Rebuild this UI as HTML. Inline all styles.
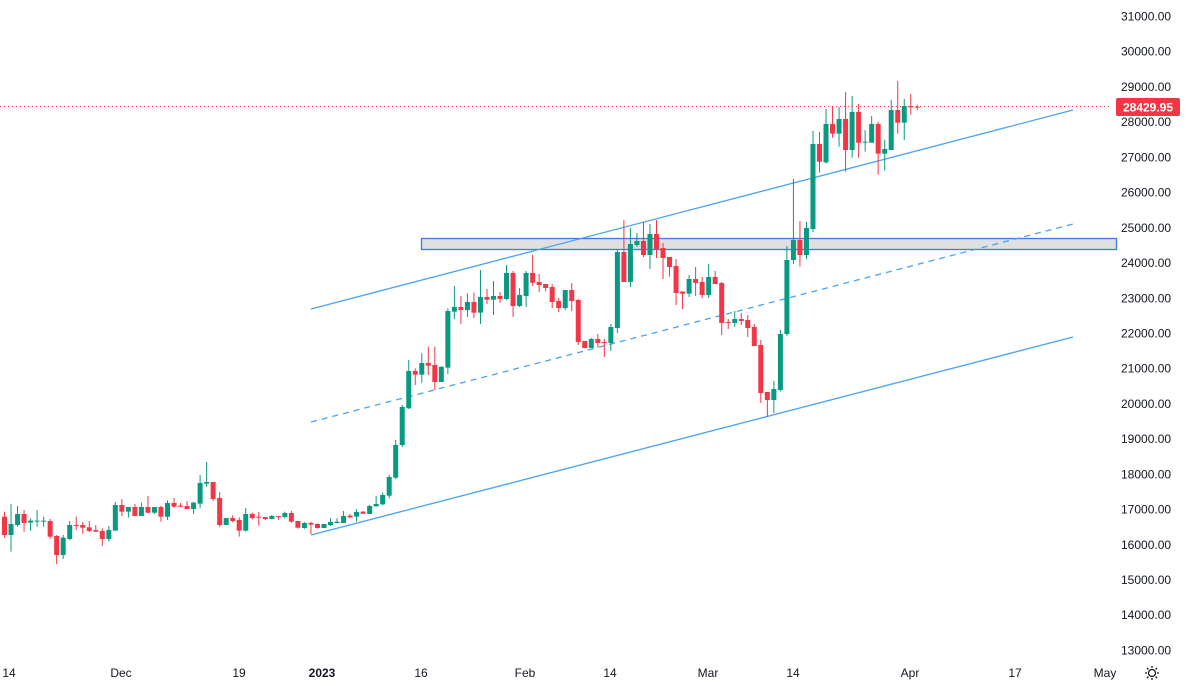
<!DOCTYPE html>
<html><head><meta charset="utf-8"><style>
html,body{margin:0;padding:0;background:#fff;width:1186px;height:686px;overflow:hidden}
svg{display:block;font-family:"Liberation Sans",sans-serif}
</style></head><body>
<svg id="s" width="1186" height="686" xmlns="http://www.w3.org/2000/svg">
<rect x="0" y="0" width="1186" height="686" fill="#fff"/>
<rect x="421.5" y="238.5" width="695" height="11" fill="#e0e0e0" stroke="#3d7be0" stroke-width="1.3"/>
<line x1="0" y1="106.5" x2="1112" y2="106.5" stroke="#F23645" stroke-width="1" stroke-dasharray="1,3"/>
<g stroke="#4aa3f0" stroke-width="1.3">
<line x1="311" y1="309" x2="1073" y2="110"/>
<line x1="311" y1="535" x2="1073" y2="337"/>
<line x1="311" y1="422" x2="1073" y2="224" stroke-dasharray="6,5"/>
</g>
<g id="c"></g>
<g fill="#131722" font-size="12" id="ax"></g>
<rect x="1116" y="98" width="64" height="18" rx="2" fill="#F23645"/>
<text x="1148" y="111.5" fill="#fff" font-size="12" font-weight="bold" text-anchor="middle">28429.95</text>
<g fill="#131722" font-size="12" text-anchor="middle">
<text x="9" y="677">14</text><text x="121" y="677">Dec</text><text x="239" y="677">19</text>
<text x="322" y="677" font-weight="bold">2023</text><text x="421" y="677">16</text><text x="525" y="677">Feb</text>
<text x="610" y="677">14</text><text x="708" y="677">Mar</text><text x="793" y="677">14</text>
<text x="910" y="677">Apr</text><text x="1015" y="677">17</text><text x="1105" y="677">May</text>
</g>
<g transform="translate(1152,673)" stroke="#131722" fill="none" stroke-width="1.3">
<circle r="3.5"/><path d="M0-7V-5M0 5V7M-7 0H-5M5 0H7M-5-5L-3.6-3.6M3.6 3.6L5 5M-5 5L-3.6 3.6M3.6-3.6L5-5"/>
</g>
</svg>
<script>
var z1=[[0,230,285,215,293],[1,252,285,192,335],[1,222,255,198,260],[0,222,249,210,275],[1,242,248,235,272],[1,242,245,210,260],[1,242,245,230,260],[0,243,290,237,297],[0,288,345,285,372],[1,293,345,285,357],[1,255,297,243,300],[0,255,258,230,270],[0,255,263,246,281],[0,262,273,243,276],[0,270,275,255,275],[0,273,297,265,318],[1,270,297,258,305],[1,195,272,186,272],[0,195,215,177,228],[1,201,215,201,233],[0,201,228,192,228],[1,201,228,188,228],[0,201,218,168,220],[1,201,218,201,222],[0,201,230,197,245],[1,189,230,181,240],[0,189,200,174,204],[0,197,200,189,201],[0,198,207,183,207],[1,188,207,185,222],[1,129,191,105,204],[1,126,131,66,140],[0,126,177,126,183],[0,174,255,156,260],[1,234,255,234,255],[0,234,243,226,247],[0,240,272,232,290],[1,222,272,204,275],[0,222,234,218,238],[0,230,233,216,257],[0,231,237,231,240],[1,228,237,225,238],[0,228,231,228,240],[1,219,231,215,235],[0,219,245,213,248],[0,243,263,243,266],[1,249,264,246,266],[0,249,254,245,282],[0,252,264,250,266],[1,252,264,252,264],[1,246,255,235,258],[1,245,249,235,250],[1,228,249,213,249],[0,227,232,222,235],[1,216,230,207,245],[0,215,221,213,222],[1,198,222,195,222],[1,192,199,168,199],[1,165,193,158,195],[1,111,167,104,175],[1,15,113,0,117]];
var z2=[[1,591,705,585,711],[1,483,595,450,597],[0,483,494,475,525],[1,459,494,430,518],[0,459,467,410,495],[0,465,516,410,540],[1,470,516,470,516],[1,303,473,295,492],[1,291,305,228,327],[0,291,300,258,342],[1,276,300,250,321],[0,276,308,248,324],[1,261,308,180,342],[0,261,269,237,282],[1,258,269,213,315],[0,258,267,246,278],[1,189,267,165,270],[0,189,288,183,321],[1,255,288,234,291],[1,189,258,183,291],[0,189,218,135,228],[0,216,225,192,246],[0,222,234,222,244],[0,231,276,222,294],[0,273,294,264,306],[1,240,294,240,300],[0,240,273,219,303],[0,270,396,267,405],[0,393,414,393,414],[1,387,414,384,414],[0,387,399,372,411],[0,396,399,387,441],[1,351,399,342,423],[1,126,354,120,369],[0,126,216,30,216],[1,102,216,54,231],[1,93,105,69,111],[0,93,135,36,141],[1,72,135,42,177],[0,72,117,30,144],[0,114,144,99,207],[0,141,171,141,200],[0,168,249,147,285],[0,245,251,243,297],[1,207,251,195,261],[0,207,219,171,258],[0,216,255,201,264],[1,201,255,162,264],[0,201,222,183,222],[0,219,339,216,375],[0,336,339,327,357],[1,327,339,303,351],[0,327,333,309,345],[0,330,354,315,381],[0,351,408,342,408],[0,405,549,390,579],[0,546,570,546,620],[1,537,570,513,609],[1,372,540,360,545]];
var z3=[[1,540,762,498,768],[1,480,540,297,552],[0,480,525,423,560],[1,444,525,426,537],[1,192,447,153,456],[0,192,245,156,278],[1,132,247,87,251],[0,132,161,78,173],[1,117,161,81,200],[0,117,210,36,275],[1,96,210,48,233],[0,96,188,72,233],[1,185,188,150,215],[1,132,188,108,188],[0,132,221,126,284],[1,207,221,180,272],[1,90,210,60,210],[0,90,128,3,161],[1,78,128,57,180],[0,78,82,42,104],[0,80,82,74,90]];
var out='',n=0;
function add(arr,off){arr.forEach(function(d){var x=4.5+n*6.52;n++;var col=d[0]?'#089981':'#F23645';
var bt=off+d[1]/3,bb=off+d[2]/3,wt=off+d[3]/3,wb=off+d[4]/3;var h=Math.max(1,bb-bt);
out+='<rect x="'+(x-0.5).toFixed(2)+'" y="'+wt.toFixed(2)+'" width="1" height="'+(wb-wt).toFixed(2)+'" fill="'+col+'"/>';
out+='<rect x="'+(x-2.5).toFixed(2)+'" y="'+bt.toFixed(2)+'" width="5" height="'+h.toFixed(2)+'" fill="'+col+'"/>';});}
add(z1,440);add(z2,210);add(z3,80);
document.getElementById('c').innerHTML=out;
var a='';for(var p=31000;p>=13000;p-=1000){var y=16+(31000-p)*0.03522;a+='<text x="1121" y="'+(y+4.5).toFixed(1)+'">'+p+'.00</text>';}
document.getElementById('ax').innerHTML=a;
</script>
</body></html>
